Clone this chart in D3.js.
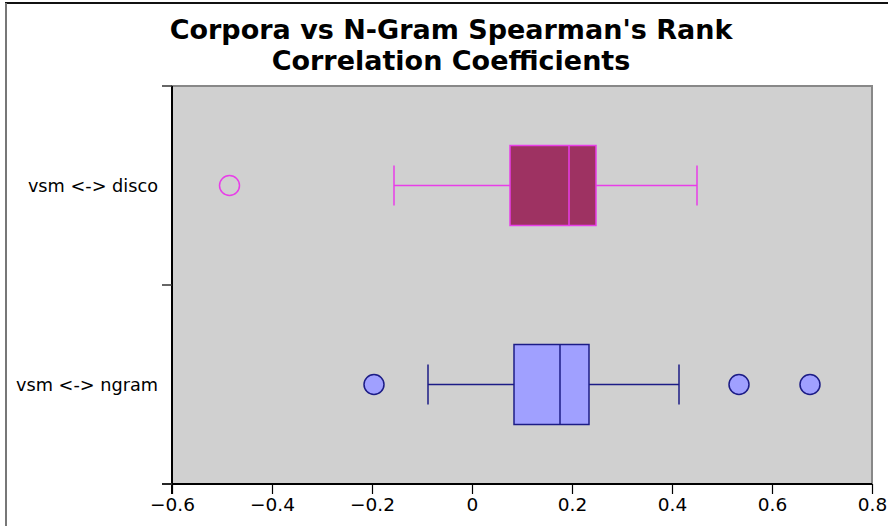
<!DOCTYPE html>
<html><head><meta charset="utf-8">
<script src="https://cdn.jsdelivr.net/npm/d3@7"></script>
<style>body{margin:0;background:#fff}svg{display:block}</style>
</head><body>
<script>
const categories = ["vsm <-> disco", "vsm <-> ngram"];
const whiskerLow = [-0.156, -0.088];
const q1 = [0.076, 0.084];
const median = [0.194, 0.176];
const q3 = [0.248, 0.234];
const whiskerHigh = [0.450, 0.414];
const outliers = [[-0.485], [-0.196, 0.534, 0.676]];
const xTicks = [-0.6, -0.4, -0.2, 0, 0.2, 0.4, 0.6, 0.8];
const fills = ["#9e3262", "#a0a0ff"];
const strokes = ["#e83ee8", "#1c1c86"];
const outlierFills = ["none", "#a0a0ff"];

const W = 888, H = 526;
const m = {left: 172, right: 872, top: 86, bottom: 484};
const svg = d3.select("body").append("svg").attr("width", W).attr("height", H);

// figure border
svg.append("line").attr("x1", 5).attr("x2", W).attr("y1", 3).attr("y2", 3).attr("stroke", "#111").attr("stroke-width", 2);
svg.append("line").attr("x1", 6).attr("x2", 6).attr("y1", 3).attr("y2", H).attr("stroke", "#777").attr("stroke-width", 2);

svg.append("text").attr("x", 451).attr("y", 39).attr("text-anchor", "middle")
  .style("font-family", "DejaVu Sans").style("font-weight", "bold").style("font-size", "27px")
  .text("Corpora vs N-Gram Spearman's Rank");
svg.append("text").attr("x", 451).attr("y", 70).attr("text-anchor", "middle")
  .style("font-family", "DejaVu Sans").style("font-weight", "bold").style("font-size", "27px")
  .text("Correlation Coefficients");

const x = d3.scaleLinear().domain([-0.6, 0.8]).range([m.left, m.right]);
const y = d3.scaleBand().domain(categories).range([m.top, m.bottom]);

svg.append("rect").attr("x", m.left).attr("y", m.top).attr("width", m.right - m.left).attr("height", m.bottom - m.top)
  .attr("fill", "#d0d0d0").attr("stroke", "#888").attr("stroke-width", 2);

const xAxis = svg.append("g").attr("transform", `translate(0,${m.bottom})`)
  .call(d3.axisBottom(x).tickValues(xTicks).tickSize(10).tickPadding(4)
    .tickFormat(d => d === 0 ? "0" : d3.format(".1f")(d).replace("-", "\u2212")));
xAxis.select(".domain").attr("stroke", "#000").attr("stroke-width", 2).attr("d", `M${m.left - 10},0H${m.right}`);
xAxis.selectAll(".tick line").attr("stroke", "#000").attr("stroke-width", 1.2);
xAxis.selectAll("text").style("font-family", "DejaVu Sans").style("font-size", "18.5px").attr("fill", "#000");

const yTickPos = [m.top, m.top + y.bandwidth(), m.bottom];
const yAxisG = svg.append("g");
yAxisG.append("line").attr("x1", m.left).attr("x2", m.left).attr("y1", m.top).attr("y2", m.bottom + 10)
  .attr("stroke", "#000").attr("stroke-width", 2);
yAxisG.selectAll("line.tk").data(yTickPos).join("line").attr("class", "tk")
  .attr("x1", m.left - 10).attr("x2", m.left).attr("y1", d => d).attr("y2", d => d)
  .attr("stroke", "#333").attr("stroke-width", 1.5);
yAxisG.selectAll("text").data(categories).join("text")
  .attr("x", 158).attr("y", d => y(d) + y.bandwidth() / 2).attr("dy", "0.35em").attr("text-anchor", "end")
  .style("font-family", "DejaVu Sans").style("font-size", "17.7px").text(d => d);

categories.forEach((c, i) => {
  const cy = y(c) + y.bandwidth() / 2;
  const g = svg.append("g");
  const sw = 1.5;
  g.append("line").attr("x1", x(whiskerLow[i])).attr("x2", x(q1[i])).attr("y1", cy).attr("y2", cy).attr("stroke", strokes[i]).attr("stroke-width", sw);
  g.append("line").attr("x1", x(q3[i])).attr("x2", x(whiskerHigh[i])).attr("y1", cy).attr("y2", cy).attr("stroke", strokes[i]).attr("stroke-width", sw);
  [whiskerLow[i], whiskerHigh[i]].forEach(v => {
    g.append("line").attr("x1", x(v)).attr("x2", x(v)).attr("y1", cy - 20).attr("y2", cy + 20).attr("stroke", strokes[i]).attr("stroke-width", sw);
  });
  g.append("rect").attr("x", x(q1[i])).attr("y", cy - 40).attr("width", x(q3[i]) - x(q1[i])).attr("height", 80)
    .attr("fill", fills[i]).attr("stroke", strokes[i]).attr("stroke-width", sw);
  g.append("line").attr("x1", x(median[i])).attr("x2", x(median[i])).attr("y1", cy - 40).attr("y2", cy + 40).attr("stroke", strokes[i]).attr("stroke-width", sw);
  g.selectAll("circle").data(outliers[i]).join("circle")
    .attr("cx", d => x(d)).attr("cy", cy).attr("r", 10)
    .attr("fill", outlierFills[i]).attr("stroke", strokes[i]).attr("stroke-width", sw);
});
</script>
</body></html>
